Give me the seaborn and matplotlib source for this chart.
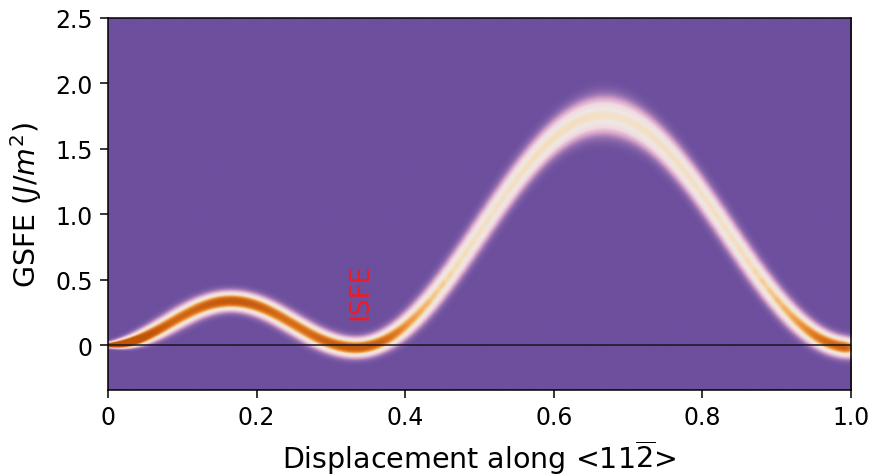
import numpy as np
import matplotlib
matplotlib.use("Agg")
import matplotlib.pyplot as plt
from matplotlib.colors import LinearSegmentedColormap
import seaborn as sns

# ---- data ----
displacement = [round(0.01 * i, 2) for i in range(101)]  # 0.00 ... 1.00
gsfe_mean = [
    0.000, 0.003, 0.012, 0.027, 0.047, 0.071, 0.099, 0.129, 0.161, 0.194,
    0.225, 0.254, 0.281, 0.303, 0.321, 0.333, 0.339, 0.339, 0.333, 0.321,
    0.303, 0.281, 0.254, 0.224, 0.191, 0.158, 0.125, 0.092, 0.062, 0.036,
    0.014, -0.003, -0.014, -0.020, -0.018, -0.009, 0.008, 0.033, 0.065, 0.104,
    0.150, 0.203, 0.261, 0.324, 0.393, 0.466, 0.542, 0.622, 0.703, 0.786,
    0.870, 0.954, 1.037, 1.118, 1.198, 1.274, 1.347, 1.415, 1.479, 1.538,
    1.590, 1.636, 1.675, 1.707, 1.732, 1.749, 1.758, 1.760, 1.753, 1.739,
    1.716, 1.687, 1.650, 1.606, 1.556, 1.499, 1.437, 1.370, 1.299, 1.224,
    1.145, 1.064, 0.982, 0.898, 0.814, 0.731, 0.649, 0.568, 0.491, 0.417,
    0.347, 0.281, 0.221, 0.167, 0.118, 0.077, 0.042, 0.015, -0.004, -0.016,
    -0.020,
]
gsfe_spread = [
    0.008, 0.013, 0.018, 0.022, 0.026, 0.030, 0.033, 0.036, 0.038, 0.040,
    0.041, 0.042, 0.042, 0.042, 0.042, 0.042, 0.042, 0.042, 0.042, 0.042,
    0.042, 0.042, 0.042, 0.042, 0.042, 0.042, 0.042, 0.042, 0.042, 0.042,
    0.042, 0.042, 0.042, 0.042, 0.042, 0.042, 0.042, 0.042, 0.043, 0.043,
    0.044, 0.044, 0.045, 0.045, 0.046, 0.046, 0.047, 0.048, 0.049, 0.050,
    0.051, 0.052, 0.054, 0.055, 0.057, 0.059, 0.061, 0.064, 0.066, 0.069,
    0.072, 0.075, 0.078, 0.080, 0.082, 0.084, 0.086, 0.087, 0.087, 0.086,
    0.084, 0.081, 0.078, 0.075, 0.072, 0.069, 0.066, 0.063, 0.060, 0.058,
    0.056, 0.054, 0.052, 0.051, 0.050, 0.049, 0.048, 0.047, 0.046, 0.046,
    0.045, 0.045, 0.045, 0.044, 0.044, 0.044, 0.044, 0.044, 0.044, 0.044,
    0.044,
]
x_ticks = [0, 0.2, 0.4, 0.6, 0.8, 1.0]
x_ticklabels = ["0", "0.2", "0.4", "0.6", "0.8", "1.0"]
y_ticks = [0, 0.5, 1.0, 1.5, 2.0, 2.5]
y_ticklabels = ["0", "0.5", "1.0", "1.5", "2.0", "2.5"]
annotation = "ISFE"
annotation_pos = (0.340, 0.42)

# ---- style ----
sns.set_style("ticks")
plt.rcParams["font.family"] = ["DejaVu Sans"]
plt.rcParams["mathtext.fontset"] = "dejavusans"
plt.rcParams["text.color"] = "black"
plt.rcParams["axes.labelcolor"] = "black"
plt.rcParams["xtick.color"] = "black"
plt.rcParams["ytick.color"] = "black"

cmap = LinearSegmentedColormap.from_list(
    "band",
    [(0.00, "#6d4f9e"), (0.06, "#9570b0"), (0.14, "#d4a2c9"),
     (0.26, "#f2d8e0"), (0.40, "#eee8e6"), (0.50, "#f6dcb6"),
     (0.60, "#f3ae62"), (0.72, "#e07e26"), (0.86, "#ca6012"),
     (1.00, "#bf550b")],
)

# ---- density of the GSFE band (smoothed from the read values) ----
xs = np.asarray(displacement)
mu = np.asarray(gsfe_mean)
sd = np.asarray(gsfe_spread)
ylo, yhi = -0.34, 2.5
gx = np.linspace(0, 1, 900)
gy = np.linspace(ylo, yhi, 700)
hx = 0.008
Wx = np.exp(-(gx[:, None] - xs[None, :]) ** 2 / (2 * hx ** 2))
Gy = np.exp(-(gy[None, :] - mu[:, None]) ** 2 / (2 * sd[:, None] ** 2)) / sd[:, None]
dens = Wx @ Gy
norm_ref = np.sqrt(2 * np.pi) * hx / 0.01 / 0.040
dens = np.clip(dens / norm_ref, 0, 1)

fig = plt.figure(figsize=(8.72, 4.77), dpi=100)
ax = fig.add_axes([108 / 872, 1 - 391 / 477, (851 - 108) / 872, (391 - 19) / 477])
ax.imshow(dens.T, origin="lower", extent=[0, 1, ylo, yhi], aspect="auto",
          cmap=cmap, vmin=0, vmax=1, interpolation="bilinear")

zero = {"x": [0, 1], "y": [0, 0]}
sns.lineplot(x=zero["x"], y=zero["y"], ax=ax, color="#1b1424", linewidth=1.1)

ax.text(annotation_pos[0], annotation_pos[1], annotation, color="#ee1c25",
        rotation=90, ha="center", va="center", fontsize=19)

ax.set_xlim(0, 1)
ax.set_ylim(ylo, yhi)
ax.set_xticks(x_ticks)
ax.set_xticklabels(x_ticklabels)
ax.set_yticks(y_ticks)
ax.set_yticklabels(y_ticklabels)
ax.tick_params(labelsize=17, length=6, width=1.1, pad=5, color="black")
for s in ax.spines.values():
    s.set_linewidth(1.1)
    s.set_color("black")
ax.set_xlabel(r"Displacement along <11$\overline{2}$>", fontsize=20.5, labelpad=6)
ax.set_ylabel(r"GSFE ($J/m^2$)", fontsize=20.5, labelpad=8)

fig.savefig("out.png", dpi=100)
